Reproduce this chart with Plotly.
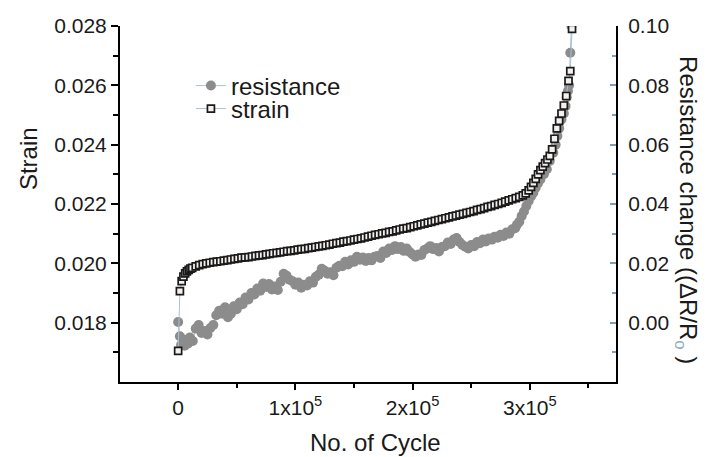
import plotly.graph_objects as go

# ---------------- data ----------------
strain_cycles = [0, 1500, 3000, 4500, 6000, 7500, 9000, 10500, 12000, 15000, 18000, 21000, 24000,
                 27000, 30000, 33000, 36000, 39000, 42000, 45000, 48000, 51000, 54000, 57000,
                 60000, 63000, 66000, 69000, 72000, 75000, 78000, 81000, 84000, 87000, 90000,
                 93000, 96000, 99000, 102000, 105000, 108000, 111000, 114000, 117000, 120000,
                 123000, 126000, 129000, 132000, 135000, 138000, 141000, 144000, 147000, 150000,
                 153000, 156000, 159000, 162000, 165000, 168000, 171000, 174000, 177000, 180000,
                 183000, 186000, 189000, 192000, 195000, 198000, 201000, 204000, 207000, 210000,
                 213000, 216000, 219000, 222000, 225000, 228000, 231000, 234000, 237000, 240000,
                 243000, 246000, 249000, 252000, 255000, 258000, 261000, 264000, 267000, 270000,
                 273000, 276000, 279000, 282000, 285000, 288000, 291000, 294000, 296500, 299000,
                 301000, 303000, 305000, 307000, 309000, 311000, 313000, 315000, 317000, 319000,
                 321000, 323000, 325000, 327000, 329000, 331000, 333000, 334500, 336000]
strain_values = [0.01705, 0.01906, 0.01940, 0.01955, 0.01966, 0.01973, 0.01978, 0.01982, 0.01985,
                 0.01990, 0.01994, 0.01997, 0.02000, 0.02002, 0.02004, 0.02006, 0.02007, 0.02009,
                 0.02011, 0.02013, 0.02015, 0.02017, 0.02019, 0.02020, 0.02021, 0.02023, 0.02025,
                 0.02027, 0.02028, 0.02030, 0.02032, 0.02034, 0.02035, 0.02037, 0.02039, 0.02041,
                 0.02042, 0.02044, 0.02046, 0.02048, 0.02049, 0.02051, 0.02053, 0.02055, 0.02057,
                 0.02059, 0.02061, 0.02063, 0.02066, 0.02068, 0.02070, 0.02073, 0.02075, 0.02077,
                 0.02080, 0.02082, 0.02084, 0.02087, 0.02090, 0.02093, 0.02096, 0.02098, 0.02101,
                 0.02103, 0.02106, 0.02108, 0.02111, 0.02114, 0.02117, 0.02119, 0.02122, 0.02125,
                 0.02128, 0.02131, 0.02134, 0.02137, 0.02140, 0.02143, 0.02146, 0.02149, 0.02152,
                 0.02155, 0.02158, 0.02161, 0.02164, 0.02167, 0.02170, 0.02173, 0.02176, 0.02180,
                 0.02183, 0.02186, 0.02190, 0.02193, 0.02197, 0.02200, 0.02204, 0.02208, 0.02212,
                 0.02216, 0.02220, 0.02224, 0.02229, 0.02236, 0.02246, 0.02258, 0.02271, 0.02285,
                 0.02300, 0.02314, 0.02326, 0.02338, 0.02350, 0.02362, 0.02384, 0.02420, 0.02455,
                 0.02480, 0.02505, 0.02532, 0.02564, 0.02615, 0.02648, 0.02790]

resist_cycles = [0, 1500, 2500, 4000, 5500, 7000, 8500, 10000, 12500, 15000, 17500, 20000, 22500,
                 25000, 27500, 30000, 32500, 35000, 37500, 40000, 42500, 45000, 47500, 50000,
                 52500, 55000, 57500, 60000, 62500, 65000, 67500, 70000, 72500, 75000, 77500,
                 80000, 82500, 85000, 87500, 90000, 92500, 95000, 97500, 100000, 102500, 105000,
                 107500, 110000, 112500, 115000, 117500, 120000, 122500, 125000, 127500, 130000,
                 132500, 135000, 137500, 140000, 142500, 145000, 147500, 150000, 152500, 155000,
                 157500, 160000, 162500, 165000, 167500, 170000, 172500, 175000, 177500, 180000,
                 182500, 185000, 187500, 190000, 192500, 195000, 197500, 200000, 202500, 205000,
                 207500, 210000, 212500, 215000, 217500, 220000, 222500, 225000, 227500, 230000,
                 232500, 235000, 237500, 240000, 242500, 245000, 247500, 250000, 252500, 255000,
                 257500, 260000, 262500, 265000, 267500, 270000, 272500, 275000, 277500, 280000,
                 282500, 285000, 287500, 289000, 291000, 293000, 295000, 297000, 299000, 301000,
                 303000, 305000, 307000, 309000, 312000, 314500, 317000, 320000, 322000, 323500,
                 325000, 327000, 329000, 330500, 331500, 332500, 333500, 334500, 335500]
resist_values = [0.0002, -0.0046, -0.0075, -0.0060, -0.0078, -0.0058, -0.0070, -0.0050, -0.0062,
                 -0.0020, -0.0008, -0.0035, -0.0028, -0.0040, -0.0018, -0.0008, 0.0025, 0.0040,
                 0.0030, 0.0052, 0.0018, 0.0030, 0.0055, 0.0045, 0.0068, 0.0062, 0.0085, 0.0078,
                 0.0100, 0.0095, 0.0115, 0.0108, 0.0132, 0.0120, 0.0130, 0.0112, 0.0122, 0.0110,
                 0.0138, 0.0165, 0.0158, 0.0145, 0.0140, 0.0128, 0.0135, 0.0118, 0.0128, 0.0125,
                 0.0140, 0.0135, 0.0155, 0.0162, 0.0182, 0.0175, 0.0165, 0.0170, 0.0160, 0.0185,
                 0.0192, 0.0190, 0.0205, 0.0196, 0.0210, 0.0205, 0.0222, 0.0212, 0.0220, 0.0208,
                 0.0218, 0.0210, 0.0222, 0.0225, 0.0218, 0.0240, 0.0235, 0.0250, 0.0245, 0.0258,
                 0.0248, 0.0255, 0.0242, 0.0250, 0.0238, 0.0230, 0.0222, 0.0230, 0.0228, 0.0245,
                 0.0250, 0.0258, 0.0248, 0.0252, 0.0240, 0.0255, 0.0258, 0.0270, 0.0265, 0.0280,
                 0.0285, 0.0272, 0.0262, 0.0256, 0.0250, 0.0262, 0.0258, 0.0272, 0.0268, 0.0280,
                 0.0274, 0.0284, 0.0280, 0.0290, 0.0286, 0.0296, 0.0292, 0.0304, 0.0300, 0.0315,
                 0.0318, 0.0330, 0.0340, 0.0359, 0.0375, 0.0393, 0.0410, 0.0425, 0.0438, 0.0455,
                 0.0470, 0.0483, 0.0500, 0.0517, 0.0545, 0.0573, 0.0600, 0.0629, 0.0655, 0.0685,
                 0.0705, 0.0730, 0.0760, 0.0781, 0.0800, 0.0910, 0.1000]

x_tickvals = [0, 100000, 200000, 300000]
x_ticktext = ["0", "1x10<sup>5</sup>", "2x10<sup>5</sup>", "3x10<sup>5</sup>"]
x_minor = [-50000, 50000, 150000, 250000, 350000]
strain_ticks = [0.018, 0.020, 0.022, 0.024, 0.026, 0.028]
strain_minor = [0.017, 0.019, 0.021, 0.023, 0.025, 0.027]
res_ticks = [0.00, 0.02, 0.04, 0.06, 0.08, 0.10]
res_minor = [-0.01, 0.01, 0.03, 0.05, 0.07, 0.09]

# ---------------- figure ----------------
FONT = "Liberation Sans, Arial, sans-serif"
LINE_C = "#a9c2d2"
X_RANGE = [-49600, 373500]

fig = go.Figure()
fig.add_trace(go.Scatter(
    x=resist_cycles, y=resist_values, name="resistance", mode="lines+markers",
    xaxis="x", yaxis="y",
    line=dict(color=LINE_C, width=1),
    marker=dict(symbol="circle", size=10, color="#8c8c8c", line=dict(width=0)),
    legend="legend"))
fig.add_trace(go.Scatter(
    x=strain_cycles, y=strain_values, name="strain", mode="lines+markers",
    xaxis="x", yaxis="y2",
    line=dict(color=LINE_C, width=1),
    marker=dict(symbol="square", size=7, color="#f4f0ee", line=dict(width=1.7, color="#1a1a1a")),
    legend="legend2"))

tickfont = dict(family=FONT, size=21, color="#1a1a1a")

fig.update_layout(
    width=707, height=457,
    margin=dict(l=120, r=91, t=26, b=75),
    paper_bgcolor="white", plot_bgcolor="white",
    font=dict(family=FONT, color="#1a1a1a"),
    xaxis=dict(range=X_RANGE, showgrid=False, zeroline=False,
               showline=True, linecolor="black", linewidth=2,
               ticks="outside", ticklen=6, tickwidth=1.5, tickcolor="black",
               tickvals=x_tickvals, ticktext=x_ticktext, tickfont=tickfont,
               minor=dict(tickvals=x_minor, ticks="outside", ticklen=4, tickwidth=1.5, tickcolor="black"),
               anchor="y"),
    xaxis2=dict(range=X_RANGE, overlaying="x", side="top", anchor="y",
                showgrid=False, zeroline=False,
                showline=True, linecolor="black", linewidth=2,
                ticks="inside", ticklen=6, tickwidth=1.5, tickcolor="black",
                tickvals=x_tickvals, showticklabels=False,
                minor=dict(tickvals=x_minor, ticks="inside", ticklen=4, tickwidth=1.5, tickcolor="black")),
    yaxis=dict(range=[-0.0200, 0.1000], side="right", showgrid=False, zeroline=False,
               showline=True, linecolor="black", linewidth=2,
               ticks="inside", ticklen=6, tickwidth=1.5, tickcolor="#7c9fb4",
               tickvals=res_ticks, ticktext=["%.2f" % v for v in res_ticks], tickfont=tickfont,
               ticklabelstandoff=6,
               minor=dict(tickvals=res_minor, ticks="inside", ticklen=4, tickwidth=1.5, tickcolor="#7c9fb4")),
    yaxis2=dict(range=[0.0160, 0.0280], side="left", overlaying="y", anchor="x",
                showgrid=False, zeroline=False,
                showline=True, linecolor="black", linewidth=2,
                ticks="outside", ticklen=7, tickwidth=1.5, tickcolor="black",
                tickvals=strain_ticks, ticktext=["%.3f" % v for v in strain_ticks], tickfont=tickfont,
                minor=dict(tickvals=strain_minor, ticks="outside", ticklen=5, tickwidth=1.5, tickcolor="black")),
    legend=dict(x=0.143, y=0.8315, xanchor="left", yanchor="middle",
                bgcolor="rgba(0,0,0,0)", font=dict(family=FONT, size=24, color="#1a1a1a")),
    legend2=dict(x=0.143, y=0.767, xanchor="left", yanchor="middle",
                 bgcolor="rgba(0,0,0,0)", font=dict(family=FONT, size=24, color="#1a1a1a")),
    annotations=[
        dict(text="Strain", xref="paper", yref="paper", x=-0.1855, y=0.629,
             xanchor="center", yanchor="middle", textangle=-90, showarrow=False,
             font=dict(family=FONT, size=24, color="#1a1a1a")),
        dict(text="No. of Cycle", xref="paper", yref="paper", x=0.516, y=-0.171,
             xanchor="center", yanchor="middle", showarrow=False,
             font=dict(family=FONT, size=24, color="#1a1a1a")),
        dict(text="Resistance change ((ΔR/R<sub><span style='color:#8fb0c4'>o</span></sub> )",
             xref="paper", yref="paper", x=1.143, y=0.483,
             xanchor="center", yanchor="middle", textangle=90, showarrow=False,
             font=dict(family=FONT, size=24, color="#1a1a1a")),
    ],
    showlegend=True,
)

fig.write_html("out.html")
